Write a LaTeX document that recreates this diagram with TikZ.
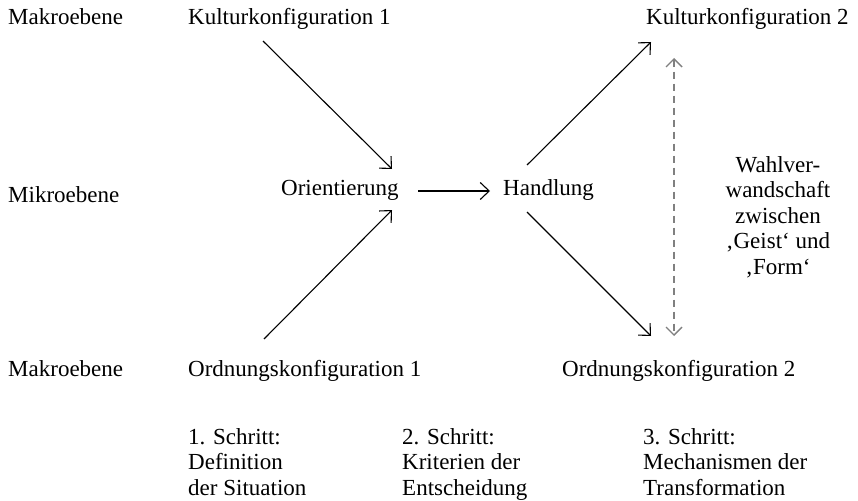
\documentclass[tikz,border=0pt]{standalone}
\usepackage{fontspec}
\setmainfont{Liberation Serif}
\usetikzlibrary{arrows.meta}
\begin{document}
\begin{tikzpicture}[x=1pt,y=-1pt,
  txt/.style={inner sep=0pt,font=\fontsize{23}{25.5}\selectfont},
  lbl/.style={txt,anchor=base west},
  steptxt/.style={txt,align=left,anchor=north west},
  tip/.style={Straight Barb[length=9pt,width=17pt,line width=1.1pt]},
  arr/.style={line width=1.1pt,-{Straight Barb[length=9pt,width=17pt,line width=1.1pt]}},
  dbl/.style={line width=1.4pt,draw=black!50,dash pattern=on 7pt off 5pt,
    {Straight Barb[length=8pt,width=16pt,line width=1.4pt]}-{Straight Barb[length=8pt,width=16pt,line width=1.4pt]}}]
\useasboundingbox (0,0) rectangle (858,500);
% row labels
\node[lbl] (mak1) at (8,25) {Makroebene};
\node[lbl] (mik) at (8,202) {Mikroebene};
\node[lbl] (mak2) at (8,376) {Makroebene};
% main nodes
\node[lbl] (kk1) at (188,25) {Kulturkonfiguration 1};
\node[lbl] (kk2) at (646,25) {Kulturkonfiguration 2};
\node[lbl] (ori) at (281,195) {Orientierung};
\node[lbl] (han) at (503,195) {Handlung};
\node[lbl] (ok1) at (188,376) {Ordnungskonfiguration 1};
\node[lbl] (ok2) at (562,376) {Ordnungskonfiguration 2};
\node[txt,align=center] (wv) at (778,217)
  {Wahlver-\\wandschaft\\zwischen\\‚Geist‘ und\\‚Form‘};
% steps
\node[steptxt] (s1) at (188,428) {1. Schritt:\\Definition\\der Situation};
\node[steptxt] (s2) at (402,428) {2. Schritt:\\Kriterien der\\Entscheidung};
\node[steptxt] (s3) at (643,428) {3. Schritt:\\Mechanismen der\\Transformation};
% connector end points
\coordinate (a1s) at (263,41);
\coordinate (a1e) at (392,169);
\coordinate (a2s) at (264,339);
\coordinate (a2e) at (392,210);
\coordinate (a3s) at (418,191);
\coordinate (a3e) at (490,191);
\coordinate (a4s) at (527,165);
\coordinate (a4e) at (651,42);
\coordinate (a5s) at (527,212);
\coordinate (a5e) at (651,336);
\coordinate (dt) at (674,58);
\coordinate (db) at (674,336);
\draw[arr] (a1s) -- (a1e);
\draw[arr] (a2s) -- (a2e);
\draw[arr] (a3s) -- (a3e);
\draw[arr] (a4s) -- (a4e);
\draw[arr] (a5s) -- (a5e);
\draw[dbl] (dt) -- (db);
\end{tikzpicture}
\end{document}
